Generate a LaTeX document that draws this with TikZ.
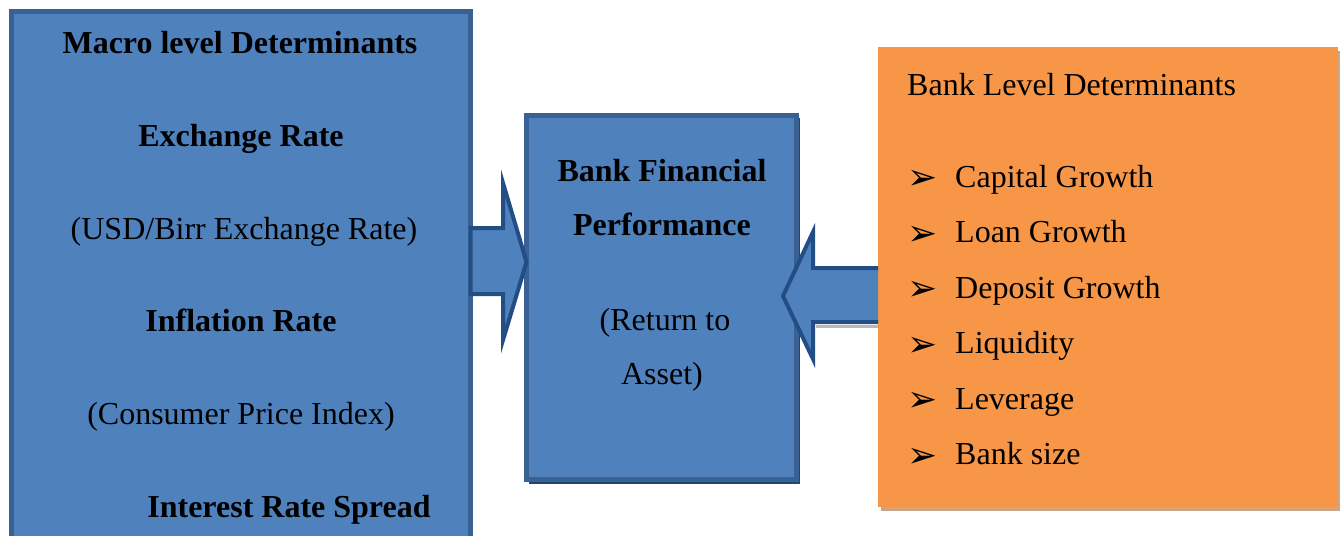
\documentclass[tikz,border=0pt]{standalone}
\usepackage{fontspec}
\setmainfont{Liberation Serif}
\newfontfamily\dingfont{DejaVu Sans}
\definecolor{boxblue}{HTML}{4F81BD}
\definecolor{boxedge}{HTML}{3A6193}
\definecolor{arrowedge}{HTML}{234D85}
\definecolor{boxorange}{HTML}{F79646}
\definecolor{orangeshade}{HTML}{CFA483}
\begin{document}
\begin{tikzpicture}[x=1pt,y=-1pt,
  bluebox/.style={draw=boxedge, fill=boxblue, line width=5pt, outer sep=0pt, inner sep=0pt, anchor=north west},
  orangebox/.style={fill=boxorange, outer sep=0pt, inner sep=0pt, anchor=north west},
  txt/.style={font=\fontsize{32}{38}\selectfont, inner sep=0pt, anchor=base},
  btxt/.style={txt, font=\fontsize{32}{38}\selectfont\bfseries},
  ltxt/.style={txt, anchor=base west},
  bullet/.style={inner sep=0pt, anchor=west, font=\dingfont\fontsize{36}{40}\selectfont},
  blockarrow/.style={draw=arrowedge, fill=boxblue, line width=4pt, line join=miter}]
\clip (0,0) rectangle (1340,535);
\fill[white] (0,0) rectangle (1340,535);

% macro-economic determinants (runs past the lower edge)
\node[bluebox, minimum width=459, minimum height=560] (macro) at (11.5,11.5) {};
\node[btxt] (m1) at (240,53) {Macro level Determinants};
\node[btxt] (m2) at (241,146) {Exchange Rate};
\node[txt]  (m3) at (244,239) {(USD/Birr Exchange Rate)};
\node[btxt] (m4) at (241,331) {Inflation Rate};
\node[txt]  (m5) at (241,424) {(Consumer Price Index)};
\node[btxt] (m6) at (289,517) {Interest Rate Spread};

% bank financial performance, with a slight shadow
\fill[arrowedge!90!black] (529,118) rectangle (800,484);
\node[bluebox, minimum width=270, minimum height=364] (perf) at (526.5,115.5) {};
\node[btxt] (p1) at (662,181) {Bank Financial};
\node[btxt] (p2) at (662,235) {Performance};
\node[txt]  (p3) at (665,330) {(Return to};
\node[txt]  (p4) at (662,384) {Asset)};

% bank level determinants, with shadow
\fill[orangeshade] (881,51) rectangle (1342,511);
\node[orangebox, minimum width=460, minimum height=460] (bank) at (878,47) {};
\node[ltxt] (b0) at (907,95) {Bank Level Determinants};
\foreach \lbl [count=\i] in {Capital Growth, Loan Growth, Deposit Growth, Liquidity, Leverage, Bank size}{
  \pgfmathsetmacro{\yy}{187+55.5*(\i-1)}
  \node[bullet] (k\i) at (907,\yy-7) {➢};
  \node[ltxt] (b\i) at (955,\yy) {\lbl};
}

% block arrows into the performance box
\draw[blockarrow] (macro.east |- 0,228) -- (503,228) -- (503,183) -- (perf.west |- 0,262)
  -- (503,340) -- (503,294) -- (macro.east |- 0,294) -- cycle;
\fill[gray!55] (816,325) rectangle (878,328);
\draw[blockarrow] (bank.west |- 0,268) -- (813,268) -- (813,232) -- (783,296)
  -- (813,359) -- (813,322) -- (bank.west |- 0,322);
\end{tikzpicture}
\end{document}
